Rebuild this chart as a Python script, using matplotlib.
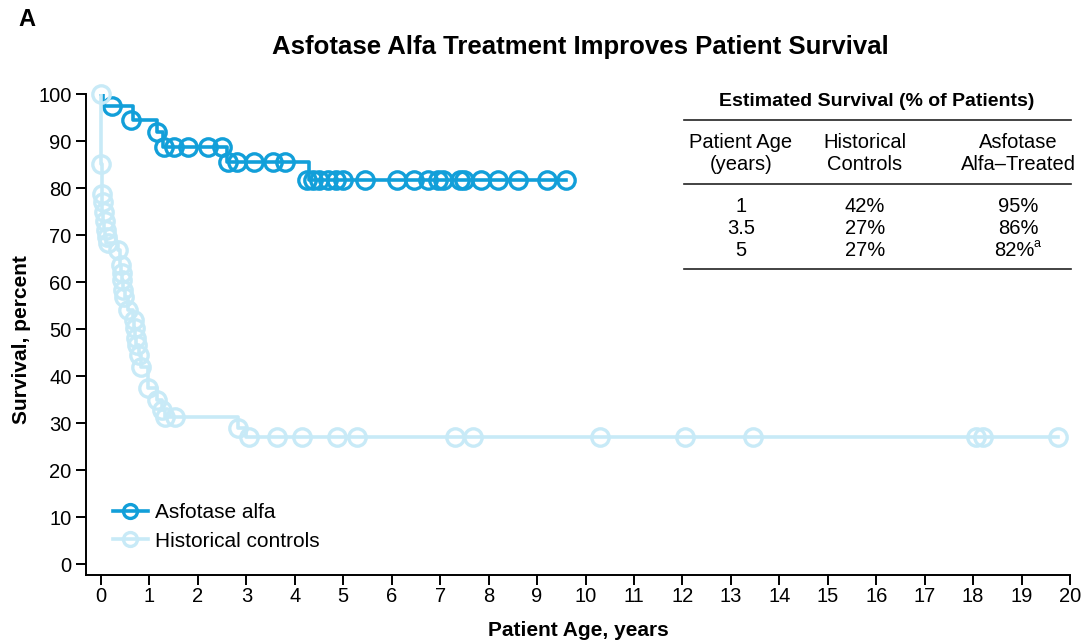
import matplotlib.pyplot as plt
from matplotlib.lines import Line2D

plt.rcParams['font.family'] = ['Liberation Sans', 'DejaVu Sans']

# Kaplan-Meier step data (years, % surviving)
asf_time = [0, 0.05, 0.65, 1.15, 1.27, 2.6, 4.3, 9.6]
asf_surv = [100, 97.4, 94.5, 92.0, 88.7, 85.5, 81.7, 81.7]

asf_mark_time = [0.23, 0.62, 1.16,
                 1.3, 1.5, 1.8, 2.2, 2.5,
                 2.63, 2.8, 3.15, 3.55, 3.8,
                 4.25, 4.38, 4.5, 4.68, 4.85, 5.0, 5.45, 6.1, 6.45, 6.75,
                 6.95, 7.05, 7.4, 7.5, 7.85, 8.2, 8.6, 9.2, 9.6]
asf_mark_surv = [97.4, 94.5, 92.0,
                 88.7, 88.7, 88.7, 88.7, 88.7,
                 85.5, 85.5, 85.5, 85.5, 85.5,
                 81.7, 81.7, 81.7, 81.7, 81.7, 81.7, 81.7, 81.7, 81.7, 81.7,
                 81.7, 81.7, 81.7, 81.7, 81.7, 81.7, 81.7, 81.7, 81.7]

hc_time = [0, 0.005, 0.01, 0.02, 0.03, 0.04, 0.06, 0.08, 0.1, 0.35, 0.4,
           0.42, 0.44, 0.46, 0.5, 0.56, 0.66, 0.68, 0.7, 0.73, 0.78, 0.82,
           0.98, 1.16, 1.26, 1.33, 2.83, 3.0, 19.75]
hc_surv = [100, 85.2, 78.7, 77.0, 75.0, 73.0, 71.0, 69.5, 68.3, 66.8, 63.6,
           62.0, 60.4, 58.3, 56.8, 54.0, 51.9, 50.2, 48.0, 46.6, 44.5, 41.9,
           37.4, 34.9, 32.8, 31.3, 29.0, 27.0, 27.0]

hc_mark_time = [0, 0.0, 0.02, 0.04, 0.06, 0.08, 0.1, 0.12, 0.14,
                0.35, 0.42, 0.43, 0.44, 0.46, 0.48, 0.55, 0.68, 0.7, 0.72,
                0.74, 0.78, 0.82, 0.98, 1.15, 1.25, 1.32, 1.52,
                2.83, 3.05, 3.63, 4.15, 4.87, 5.28, 7.31, 7.68, 10.3, 12.05,
                13.45, 18.05, 18.2, 19.75]
hc_mark_surv = [100, 85.2, 78.7, 77.0, 75.0, 73.0, 71.0, 69.5, 68.3,
                66.8, 63.6, 62.0, 60.4, 58.3, 56.8, 54.0, 51.9, 50.2, 48.0,
                46.6, 44.5, 41.9, 37.4, 34.9, 32.8, 31.3, 31.3,
                29.0, 27.0, 27.0, 27.0, 27.0, 27.0, 27.0, 27.0, 27.0, 27.0,
                27.0, 27.0, 27.0, 27.0]

table_ages = ['1', '3.5', '5']
table_hist = ['42%', '27%', '27%']
table_asf = ['95%', '86%', '82%']

dark = '#129fd9'
light = '#c8eaf7'

fig = plt.figure(figsize=(10.86, 6.4), dpi=100)
ax = fig.add_axes([86 / 1086, 1 - 575 / 640, (1070 - 86) / 1086, (575 - 94) / 640])

ax.step(asf_time, asf_surv, where='post', color=dark, lw=2.6, zorder=3)
ax.plot(asf_mark_time, asf_mark_surv, 'o', ms=12.5, mfc='none', mec=dark, mew=2.4,
        zorder=3, clip_on=False)
ax.step(hc_time, hc_surv, where='post', color=light, lw=2.6, zorder=4)
ax.plot(hc_mark_time, hc_mark_surv, 'o', ms=12.5, mfc='none', mec=light, mew=2.4,
        zorder=4, clip_on=False)

ax.set_xlim(-0.31, 20)
ax.set_ylim(-2.34, 100)
ax.set_xticks(range(0, 21))
ax.set_yticks(range(0, 101, 10))
ax.spines['top'].set_visible(False)
ax.spines['right'].set_visible(False)
ax.spines['left'].set_linewidth(1.4)
ax.spines['bottom'].set_linewidth(1.4)
ax.tick_params(labelsize=14.5, width=1.4, length=7, direction='out')
ax.tick_params(axis='x', pad=2)

handles = [
    Line2D([], [], color=dark, lw=2.6, marker='o', ms=10, mfc='none', mec=dark, mew=2.4),
    Line2D([], [], color=light, lw=2.6, marker='o', ms=10, mfc='none', mec=light, mew=2.4),
]
ax.legend(handles, ['Asfotase alfa', 'Historical controls'], loc='center left',
          bbox_to_anchor=(0.008, 0.1), frameon=False, fontsize=15,
          handlelength=1.7, handletextpad=0.35, labelspacing=0.45)


def fx(px):
    return px / 1086


def fy(py):
    return 1 - py / 640


fig.text(fx(578), fy(630), 'Patient Age, years', fontsize=15, fontweight='bold',
         ha='center', va='center')
fig.text(fx(22), fy(340), 'Survival, percent', fontsize=15, fontweight='bold',
         ha='center', va='center', rotation=90)
fig.text(fx(18), fy(20), 'A', fontsize=17, fontweight='bold', ha='left', va='center')
fig.text(fx(580), fy(47), 'Asfotase Alfa Treatment Improves Patient Survival',
         fontsize=18.5, fontweight='bold', ha='center', va='center')

# survival table
fig.text(fx(877), fy(101), 'Estimated Survival (% of Patients)', fontsize=14,
         fontweight='bold', ha='center', va='center')
for yy in (120, 184, 269):
    fig.add_artist(Line2D([fx(684), fx(1071)], [fy(yy), fy(yy)], color='#222222', lw=1.2))

cols = [741, 865, 1018]
heads = [('Patient Age', '(years)'), ('Historical', 'Controls'), ('Asfotase', 'Alfa\u2013Treated')]
for cx, (h1, h2) in zip(cols, heads):
    fig.text(fx(cx), fy(142), h1, fontsize=14.5, ha='center', va='center')
    fig.text(fx(cx), fy(164), h2, fontsize=14.5, ha='center', va='center')

for i, (a, h, t) in enumerate(zip(table_ages, table_hist, table_asf)):
    yy = 206 + 22 * i
    fig.text(fx(cols[0]), fy(yy), a, fontsize=14.5, ha='center', va='center')
    fig.text(fx(cols[1]), fy(yy), h, fontsize=14.5, ha='center', va='center')
    shift = 4 if i == 2 else 0
    fig.text(fx(cols[2] - shift), fy(yy), t, fontsize=14.5, ha='center', va='center')

# footnote mark on the last treated value
fig.text(fx(1033), fy(244), 'a', fontsize=9, ha='left', va='center')

fig.savefig('out.png', dpi=100)
